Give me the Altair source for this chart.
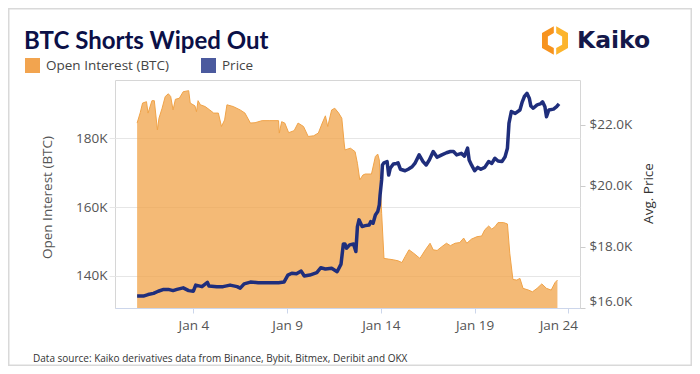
import altair as alt
import pandas as pd

# ---------------- data ----------------
# hours after 2023-01-01 00:00 and open interest in thousands of BTC
oi_hours = [0, 4, 7, 12, 14, 19, 22, 26, 28, 32, 36, 40, 43, 46, 49, 54, 59, 66, 68, 74,
            76, 78, 81, 87, 93, 98, 104, 108, 112, 115, 123, 132, 138, 145, 151, 160, 170, 181, 182, 185,
            189, 194, 201, 206, 213, 219, 226, 232, 237, 241, 244, 249, 253, 258, 262, 265, 266, 273, 279, 282,
            285, 289, 292, 300, 305, 308, 310, 313, 316, 322, 328, 334, 339, 343, 348, 354, 362, 369, 375, 379,
            384, 390, 396, 401, 407, 413, 418, 422, 428, 435, 441, 445, 450, 454, 458, 462, 469, 474, 477, 481,
            486, 490, 494, 501, 506, 512, 518, 524, 530, 535, 538]
oi_k = [184.4, 187.4, 190.2, 190.6, 187.3, 190.9, 190.9, 182.4, 185.8, 188.7, 192.1, 192.9, 192.1, 188.2, 191.3, 191.6, 193.5, 193.8, 190.2, 189.4,
        187.7, 190.9, 189.7, 189.2, 188.2, 187.3, 187.3, 183.4, 185.3, 189.7, 189.2, 188.2, 187.3, 184.4, 184.5, 185.1, 185.1, 185.1, 181.5, 184.8,
        184.4, 181.6, 182.2, 184.4, 183.4, 180.5, 180.7, 181.5, 184.4, 186.5, 183.4, 188.2, 188.7, 187.3, 185.8, 178.6, 176.6, 177.1, 176.1, 172.7,
        167.9, 169.3, 169.6, 169.6, 174.7, 175.4, 173.7, 158.2, 145.1, 144.9, 144.7, 144.4, 143.9, 145.6, 147.6, 146.6, 145.1, 147.6, 149.5, 147.6,
        147.4, 148.5, 149.5, 148.8, 149.5, 149.7, 151.0, 149.5, 150.7, 151.4, 151.6, 153.4, 154.5, 153.6, 154.3, 155.5, 155.5, 155.1, 146.6, 139.0,
        138.8, 139.3, 136.4, 135.9, 135.4, 136.4, 137.7, 136.4, 135.9, 138.1, 138.8]

# hours after 2023-01-01 00:00 and average price in thousands of USD
px_hours = [0, 8, 14, 21, 27, 34, 40, 46, 51, 59, 66, 72, 75, 83, 90, 92, 102, 110, 119, 128,
            132, 137, 145, 155, 168, 181, 188, 193, 198, 204, 210, 214, 221, 230, 235, 241, 249, 256, 261, 264,
            266, 268, 272, 277, 280, 282, 284, 288, 292, 297, 299, 302, 305, 308, 310, 311, 313, 314, 316, 320,
            322, 324, 328, 332, 334, 337, 343, 347, 352, 356, 361, 366, 370, 374, 379, 384, 390, 396, 401, 405,
            409, 415, 419, 423, 425, 428, 432, 436, 440, 445, 450, 454, 458, 462, 467, 471, 474, 476, 479, 484,
            490, 493, 496, 499, 502, 504, 507, 512, 516, 519, 522, 524, 527, 533, 537, 540]
px_k = [16.39, 16.39, 16.44, 16.48, 16.55, 16.61, 16.61, 16.57, 16.61, 16.66, 16.57, 16.55, 16.75, 16.70, 16.84, 16.72, 16.70, 16.70, 16.75, 16.70,
        16.65, 16.79, 16.85, 16.83, 16.83, 16.83, 16.85, 17.08, 17.14, 17.12, 17.21, 17.05, 17.08, 17.16, 17.32, 17.28, 17.30, 17.19, 17.44, 18.10,
        18.10, 17.96, 18.07, 18.10, 17.85, 18.67, 18.89, 18.67, 18.70, 18.72, 18.83, 18.78, 19.05, 19.16, 19.38, 19.71, 20.20, 20.69, 20.76, 20.80,
        20.36, 20.58, 20.72, 20.74, 20.76, 20.55, 20.50, 20.55, 20.63, 20.76, 21.02, 20.80, 20.69, 20.85, 21.13, 20.94, 21.02, 21.09, 21.13, 21.13,
        21.02, 21.07, 20.98, 21.24, 20.85, 20.69, 20.50, 20.61, 20.55, 20.61, 20.80, 20.74, 20.91, 20.82, 20.80, 20.96, 21.24, 22.06, 22.44, 22.38,
        22.49, 22.76, 22.95, 23.04, 22.88, 22.62, 22.55, 22.66, 22.69, 22.76, 22.60, 22.27, 22.49, 22.52, 22.60, 22.69]

series_names = ["Open Interest (BTC)", "Price"]
x_tick_days = [4, 9, 14, 19, 24]
oi_ticks = [140000, 160000, 180000]
px_ticks = [16000, 18000, 20000, 22000]

title_text = "BTC Shorts Wiped Out"
source_text = "Data source: Kaiko derivatives data from Binance, Bybit, Bitmex, Deribit and OKX"
brand_text = "Kaiko"

# ---------------- tables ----------------
start = pd.Timestamp("2023-01-01 00:00")
oi_df = pd.DataFrame({"time": start + pd.to_timedelta(oi_hours, unit="h"),
                      "oi": [v * 1000 for v in oi_k]})
px_df = pd.DataFrame({"time": start + pd.to_timedelta(px_hours, unit="h"),
                      "price": [v * 1000 for v in px_k]})
leg_df = pd.DataFrame({"series": series_names, "time": [start, start], "oi": [150000, 150000]})

FONT = "Open Sans"
LABEL_COLOR = "#555555"
ORANGE = "#f0a348"
NAVY = "#1f2e7c"

xscale = alt.Scale(domain=[alt.DateTime(year=2022, month=12, date=30, hours=19, minutes=42),
                           alt.DateTime(year=2023, month=1, date=24, hours=14, minutes=54)])
xaxis = alt.Axis(values=[alt.DateTime(year=2023, month=1, date=d) for d in x_tick_days],
                 format="%b %-d", formatType="time", grid=False, domain=True,
                 domainColor="#ccd6eb", tickColor="#ccd6eb", tickSize=5, labelPadding=5,
                 labelOffset={"condition": {"test": "date(datum.value) == 24", "value": -10}, "value": 0},
                 labelFontSize=13.5, labelColor=LABEL_COLOR, labelFont=FONT, title=None)

oi_scale = alt.Scale(domain=[130700, 196900], zero=False, nice=False)
oi_axis = alt.Axis(orient="left", values=oi_ticks, labelExpr="format(datum.value/1000, 'd') + 'K'",
                   grid=True, gridColor="#e6e6e6", domain=False, ticks=True, tickSize=6,
                   tickColor="#e6e6e6", labelPadding=2, labelFontSize=13.5, labelColor=LABEL_COLOR,
                   labelFont=FONT, title="Open Interest (BTC)", titleFont=FONT, titleFontSize=13.5,
                   titleFontWeight="normal", titleColor=LABEL_COLOR, titleAngle=270,
                   titleBaseline="middle", titleAlign="center", titleX=-68, titleY=117)

px_scale = alt.Scale(domain=[16000, 23475], zero=False, nice=False)
px_axis = alt.Axis(orient="right", values=px_ticks,
                   labelExpr="'$' + format(datum.value/1000, '.1f') + 'K'",
                   grid=False, domain=False, ticks=True, tickSize=5, tickColor="#cccccc",
                   labelPadding=4, labelFlush=True, labelFontSize=13.5, labelColor=LABEL_COLOR,
                   labelFont=FONT, title="Avg. Price", titleFont=FONT, titleFontSize=13.5,
                   titleFontWeight="normal", titleColor="#333333", titleAngle=270,
                   titleBaseline="middle", titleAlign="center", titleX=68, titleY=113)

area = alt.Chart(oi_df).mark_area(
    color=ORANGE, fillOpacity=0.75, clip=True,
    line=alt.OverlayMarkDef(color=ORANGE, strokeWidth=1)
).encode(
    x=alt.X("time:T", scale=xscale, axis=xaxis),
    y=alt.Y("oi:Q", scale=oi_scale, axis=oi_axis),
)

legend_pts = alt.Chart(leg_df).mark_square(opacity=0).encode(
    x=alt.X("time:T", scale=xscale, axis=xaxis),
    y=alt.Y("oi:Q", scale=oi_scale, axis=oi_axis),
    color=alt.Color("series:N",
                    scale=alt.Scale(domain=series_names, range=["#f2a44f", "#4b5a9e"]),
                    legend=alt.Legend(orient="none", legendX=-90, legendY=-22, direction="horizontal",
                                      title=None, symbolType="square", symbolSize=225,
                                      symbolOpacity=1, symbolStrokeWidth=0, labelFont=FONT,
                                      labelFontSize=13.5, labelColor="#444444", labelOffset=6,
                                      columnPadding=31, padding=0)),
)

oi_layer = alt.layer(area, legend_pts)

price = alt.Chart(px_df).mark_line(color=NAVY, strokeWidth=3.5, strokeJoin="round").encode(
    x=alt.X("time:T", scale=xscale, axis=xaxis),
    y=alt.Y("price:Q", scale=px_scale, axis=px_axis),
)


def label(txt, x, y, size, color, weight="normal", font=FONT):
    return alt.Chart(pd.DataFrame({"t": [txt]})).mark_text(
        align="left", baseline="alphabetic", font=font, fontSize=size,
        fontWeight=weight, color=color
    ).encode(x=alt.value(x), y=alt.value(y), text="t:N")


title = label(title_text, -91, -31, 24, "#0b1047", "bold", "Lato")
source = label(source_text, -82, 282, 10, "#333333")
brand = label(brand_text, 462, -32, 23.5, "#14184a", "bold", "DejaVu Sans")

left_piece = ("M -0.08 -0.954 L -0.866 -0.5 L -0.866 0.5 L -0.08 0.954 L -0.08 0.504 "
              "L -0.476 0.275 L -0.476 -0.275 L -0.08 -0.504 Z")
right_piece = ("M 0.08 -0.954 L 0.866 -0.5 L 0.866 0.5 L 0.08 0.954 L 0.08 0.504 "
               "L 0.476 0.275 L 0.476 -0.275 L 0.08 -0.504 Z")
one = pd.DataFrame({"k": [0]})
icon_l = alt.Chart(one).mark_point(shape=left_piece, filled=True, size=900, color="#f7931e",
                                   opacity=1).encode(x=alt.value(440), y=alt.value(-39.5))
icon_r = alt.Chart(one).mark_point(shape=right_piece, filled=True, size=900, color="#fcb42c",
                                   opacity=1).encode(x=alt.value(440), y=alt.value(-39.5))

frame = alt.Chart(one).mark_rect(fillOpacity=0, stroke="#d9d9d9", strokeWidth=1.5).encode(
    x=alt.value(-106.25), x2=alt.value(576.25), y=alt.value(-71.25), y2=alt.value(285.25))

chart = alt.layer(
    oi_layer, price, title, source, brand, icon_l, icon_r, frame
).resolve_scale(
    y="independent"
).properties(
    width=465, height=228,
    autosize=alt.AutoSizeParams(type="none"),
    padding={"left": 107, "top": 72, "right": 112, "bottom": 58},
    background="white",
).configure_view(
    stroke="#d6d6d6", strokeWidth=1
)

chart.save("out.html", embed_options={"renderer": "svg", "actions": False})
